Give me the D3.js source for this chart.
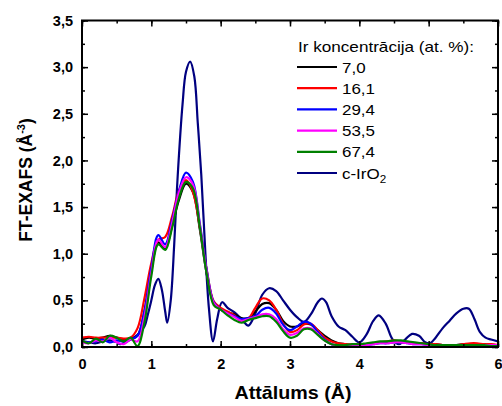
<!DOCTYPE html>
<html>
<head>
<meta charset="utf-8">
<script src="https://cdn.jsdelivr.net/npm/d3@7"></script>
<style>
html,body{margin:0;padding:0;background:#fff;}
svg{display:block;font-family:"Liberation Sans",Arial,sans-serif;}
</style>
</head>
<body>
<svg id="chart" width="502" height="406"></svg>
<script>
// ---- data ----
const rGrid = [0.0,0.1,0.2,0.3,0.4,0.5,0.6,0.7,0.8,0.9,1.0,1.1,1.2,1.3,1.4,1.5,1.6,1.7,1.8,1.9,2.0,2.1,2.2,2.3,2.4,2.5,2.6,2.7,2.8,2.9,3.0,3.1,3.2,3.3,3.4,3.5,3.6,3.7,3.8,3.9,4.0,4.1,4.2,4.3,4.4,4.5,4.6,4.7,4.8,4.9,5.0,5.1,5.2,5.3,5.4,5.5,5.6,5.7,5.8,5.9,6.0];
const ir70  = [0.08,0.10,0.09,0.10,0.12,0.10,0.08,0.09,0.12,0.38,0.82,1.12,1.06,1.30,1.58,1.75,1.66,1.26,0.78,0.47,0.40,0.37,0.35,0.31,0.31,0.38,0.46,0.47,0.40,0.28,0.22,0.22,0.25,0.24,0.18,0.12,0.07,0.04,0.03,0.02,0.02,0.03,0.04,0.05,0.05,0.06,0.05,0.05,0.04,0.04,0.03,0.03,0.02,0.02,0.02,0.03,0.03,0.03,0.03,0.02,0.02];
const ir161 = [0.10,0.11,0.10,0.10,0.10,0.10,0.09,0.10,0.20,0.52,0.90,1.15,1.18,1.40,1.68,1.79,1.66,1.28,0.82,0.49,0.42,0.38,0.34,0.27,0.30,0.42,0.52,0.50,0.40,0.25,0.16,0.18,0.24,0.25,0.18,0.10,0.06,0.04,0.03,0.03,0.03,0.03,0.04,0.05,0.06,0.07,0.06,0.05,0.04,0.04,0.03,0.03,0.02,0.02,0.02,0.03,0.04,0.04,0.03,0.03,0.02];
const ir294 = [0.06,0.05,0.06,0.08,0.05,0.07,0.06,0.08,0.12,0.38,0.85,1.20,1.10,1.36,1.68,1.87,1.77,1.32,0.82,0.48,0.40,0.36,0.33,0.30,0.31,0.33,0.40,0.42,0.36,0.24,0.18,0.22,0.27,0.25,0.16,0.08,0.03,0.01,0.01,0.01,0.01,0.02,0.03,0.04,0.04,0.05,0.05,0.04,0.03,0.03,0.02,0.02,0.02,0.02,0.02,0.02,0.02,0.02,0.02,0.02,0.02];
const ir535 = [0.05,0.04,0.07,0.06,0.10,0.05,0.03,0.08,0.06,0.32,0.80,1.15,1.07,1.33,1.66,1.82,1.74,1.30,0.80,0.47,0.40,0.36,0.32,0.28,0.30,0.32,0.35,0.35,0.30,0.19,0.13,0.15,0.20,0.20,0.14,0.07,0.03,0.01,0.01,0.01,0.01,0.02,0.03,0.04,0.04,0.05,0.05,0.04,0.03,0.03,0.02,0.02,0.02,0.02,0.02,0.02,0.02,0.02,0.02,0.02,0.02];
const ir674 = [0.07,0.04,0.09,0.05,0.12,0.10,0.06,0.10,0.01,0.26,0.76,1.10,1.04,1.28,1.60,1.77,1.70,1.28,0.78,0.45,0.40,0.34,0.29,0.26,0.29,0.31,0.33,0.33,0.27,0.17,0.10,0.12,0.19,0.19,0.13,0.07,0.03,0.02,0.02,0.03,0.03,0.04,0.05,0.06,0.06,0.07,0.07,0.06,0.05,0.04,0.03,0.02,0.02,0.02,0.02,0.02,0.02,0.02,0.02,0.01,0.01];
const irO2R   = [0.0,0.1,0.2,0.3,0.4,0.5,0.55,0.6,0.7,0.8,0.9,0.95,1.0,1.05,1.1,1.15,1.2,1.23,1.28,1.33,1.38,1.45,1.5,1.56,1.62,1.67,1.72,1.78,1.83,1.89,1.95,2.02,2.1,2.2,2.3,2.4,2.5,2.6,2.7,2.8,2.9,3.0,3.1,3.2,3.3,3.4,3.46,3.52,3.6,3.7,3.8,3.9,4.0,4.1,4.2,4.28,4.38,4.48,4.57,4.66,4.76,4.86,4.95,5.02,5.1,5.2,5.3,5.4,5.5,5.58,5.66,5.74,5.82,5.9,6.0];
const irO2Val = [0.06,0.05,0.04,0.06,0.07,0.05,0.03,0.04,0.08,0.13,0.22,0.35,0.50,0.66,0.73,0.62,0.38,0.26,0.50,1.10,1.83,2.60,2.95,3.06,2.90,2.40,1.85,1.00,0.42,0.06,0.30,0.48,0.42,0.37,0.30,0.23,0.36,0.56,0.63,0.60,0.50,0.40,0.32,0.27,0.35,0.48,0.52,0.48,0.33,0.22,0.18,0.11,0.05,0.13,0.28,0.34,0.25,0.08,0.03,0.08,0.14,0.12,0.05,0.04,0.10,0.20,0.28,0.36,0.41,0.41,0.30,0.16,0.10,0.08,0.06];
const seriesNames  = ["7,0","16,1","29,4","53,5","67,4","c-IrO2"];
const seriesColors = ["#000000","#ff0000","#0000ff","#ff00ff","#008000","#000080"];
const xTicks = [0,1,2,3,4,5,6];
const yTicks = [0,0.5,1.0,1.5,2.0,2.5,3.0,3.5];

// ---- layout ----
const svg = d3.select("#chart");
const L = 82, R = 498, T = 20.5, B = 347;
const x = d3.scaleLinear().domain([0,6]).range([L,R]);
const y = d3.scaleLinear().domain([0,3.5]).range([B,T]);

const series = [
  {name:seriesNames[0], color:seriesColors[0], xs:rGrid, ys:ir70},
  {name:seriesNames[1], color:seriesColors[1], xs:rGrid, ys:ir161},
  {name:seriesNames[2], color:seriesColors[2], xs:rGrid, ys:ir294},
  {name:seriesNames[3], color:seriesColors[3], xs:rGrid, ys:ir535},
  {name:seriesNames[4], color:seriesColors[4], xs:rGrid, ys:ir674},
  {name:seriesNames[5], color:seriesColors[5], xs:irO2R, ys:irO2Val}
];

svg.append("defs").append("clipPath").attr("id","clip")
  .append("rect").attr("x",L).attr("y",T).attr("width",R-L).attr("height",B-T);

const line = d3.line().x(d=>x(d[0])).y(d=>y(d[1])).curve(d3.curveCatmullRom.alpha(0.5));
const g = svg.append("g").attr("clip-path","url(#clip)");
const order = [5,0,1,2,3,4];
order.forEach(i=>{
  const s = series[i];
  g.append("path")
    .attr("d", line(s.xs.map((v,k)=>[v,s.ys[k]])))
    .attr("fill","none").attr("stroke",s.color)
    .attr("stroke-width",2.2).attr("stroke-linejoin","round");
});

// ---- axes ----
const fmt = d => d3.format(".1f")(d).replace(".",",");
const xMinor = d3.range(0,6.01,0.5);
const yMinor = d3.range(0,3.51,0.25);
function axisStyle(sel){ sel.select(".domain").remove(); sel.selectAll("line").attr("stroke","#000").attr("stroke-width",1.5); }

const ax = [
  svg.append("g").attr("transform",`translate(0,${B})`).call(d3.axisBottom(x).tickValues(xMinor).tickSize(-3).tickFormat("")),
  svg.append("g").attr("transform",`translate(0,${B})`).call(d3.axisBottom(x).tickValues(xTicks).tickSize(-6).tickPadding(12).tickFormat(d3.format("d"))),
  svg.append("g").attr("transform",`translate(0,${T})`).call(d3.axisTop(x).tickValues(xMinor).tickSize(-3).tickFormat("")),
  svg.append("g").attr("transform",`translate(0,${T})`).call(d3.axisTop(x).tickValues(xTicks).tickSize(-6).tickFormat("")),
  svg.append("g").attr("transform",`translate(${L},0)`).call(d3.axisLeft(y).tickValues(yMinor).tickSize(-3).tickFormat("")),
  svg.append("g").attr("transform",`translate(${L},0)`).call(d3.axisLeft(y).tickValues(yTicks).tickSize(-6).tickPadding(9).tickFormat(fmt)),
  svg.append("g").attr("transform",`translate(${R},0)`).call(d3.axisRight(y).tickValues(yMinor).tickSize(-3).tickFormat("")),
  svg.append("g").attr("transform",`translate(${R},0)`).call(d3.axisRight(y).tickValues(yTicks).tickSize(-6).tickFormat(""))
];
ax.forEach(a=>{ axisStyle(a); a.selectAll("text").attr("font-family","Liberation Sans, Arial, sans-serif").attr("font-size",14.5).attr("font-weight","bold").attr("fill","#000"); });

svg.append("rect").attr("x",L).attr("y",T).attr("width",R-L).attr("height",B-T)
  .attr("fill","none").attr("stroke","#000").attr("stroke-width",2);

// axis titles
svg.append("text").attr("x",293).attr("y",399).attr("text-anchor","middle")
  .attr("font-size",17.5).attr("font-weight","bold")
  .attr("textLength",117).attr("lengthAdjust","spacingAndGlyphs").text("Attālums (Å)");
const yt = svg.append("text").attr("transform","translate(32,180) rotate(-90)").attr("text-anchor","middle")
  .attr("font-size",17.5).attr("font-weight","bold");
yt.append("tspan").text("FT-EXAFS (Å");
yt.append("tspan").attr("font-size",11).attr("dy",-7).text("-3");
yt.append("tspan").attr("dy",7).text(")");

// ---- legend ----
const lg = svg.append("g");
lg.append("text").attr("x",298).attr("y",52).attr("font-size",14.5)
  .attr("textLength",176).attr("lengthAdjust","spacingAndGlyphs").text("Ir koncentrācija (at. %):");
series.forEach((s,i)=>{
  const yy = 67 + i*21.2;
  lg.append("line").attr("x1",297).attr("x2",337).attr("y1",yy).attr("y2",yy)
    .attr("stroke",s.color).attr("stroke-width",2.2);
  const t = lg.append("text").attr("transform",`translate(342,${yy+5.5}) scale(1.17,1)`).attr("font-size",14.5);
  if (s.name === "c-IrO2") {
    t.append("tspan").text("c-IrO");
    t.append("tspan").attr("font-size",10).attr("dy",4).text("2");
  } else t.text(s.name);
});
</script>
</body>
</html>
